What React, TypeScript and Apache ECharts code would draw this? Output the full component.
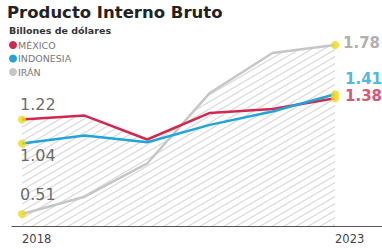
import React, { useEffect, useRef } from "react";
import * as echarts from "echarts";

const years = [2018, 2019, 2020, 2021, 2022, 2023];
const mexico = [1.22, 1.25, 1.07, 1.27, 1.3, 1.38];
const indonesia = [1.04, 1.1, 1.05, 1.18, 1.28, 1.41];
const iran = [0.51, 0.64, 0.89, 1.42, 1.72, 1.78];
const axisYears = [2018, 2023];

const RED = "#d2274f";
const BLUE = "#1fa5da";
const GREY = "#c6c6c6";
const YELLOW = "#efd916";

function envelope(all: number[][]): number[][] {
  const xs: number[] = [...years];
  for (let i = 0; i < years.length - 1; i++) {
    for (let a = 0; a < all.length; a++) {
      for (let b = a + 1; b < all.length; b++) {
        const d0 = all[a][i] - all[b][i];
        const d1 = all[a][i + 1] - all[b][i + 1];
        if (d0 * d1 < 0) {
          const t = d0 / (d0 - d1);
          xs.push(years[i] + t * (years[i + 1] - years[i]));
        }
      }
    }
  }
  xs.sort((p, q) => p - q);
  const valAt = (s: number[], x: number) => {
    let i = Math.min(Math.floor(x - years[0]), years.length - 2);
    const t = (x - years[i]) / (years[i + 1] - years[i]);
    return s[i] + t * (s[i + 1] - s[i]);
  };
  return xs.map((x) => [x, Math.max(...all.map((s) => valAt(s, x)))]);
}

function makePattern() {
  const W = 12, H = 7;
  const c = document.createElement("canvas");
  c.width = W;
  c.height = H;
  const ctx = c.getContext("2d")!;
  ctx.strokeStyle = "#dadada";
  ctx.lineWidth = 1.2;
  for (let k = -1; k <= 1; k++) {
    ctx.beginPath();
    ctx.moveTo(-W, H + H * k + H);
    ctx.lineTo(2 * W, H * k - H);
    ctx.stroke();
  }
  return { image: c, repeat: "repeat", imageWidth: W, imageHeight: H } as any;
}

const numFont = "DejaVu Sans";

export default function App() {
  const ref = useRef<HTMLDivElement>(null);
  useEffect(() => {
    const chart = echarts.init(ref.current!, null, { renderer: "svg" });
    const last = years.length - 1;
    const endpoint = (
      name: string,
      s: number[],
      startLbl: any,
      endLbl: any,
      z: number
    ) => ({
      type: "scatter",
      name: name + "-pts",
      z,
      symbol: "circle",
      symbolSize: 8,
      itemStyle: { color: YELLOW },
      data: [
        { value: [years[0], s[0]], label: startLbl },
        { value: [years[last], s[last]], label: endLbl },
      ],
      silent: true,
    });
    const lbl = (v: number, color: string, weight: string, size: number, dx: number, dy: number) => ({
      show: true,
      position: "inside",
      align: "left",
      verticalAlign: "middle",
      offset: [dx, dy],
      formatter: v.toFixed(2),
      color,
      fontSize: size,
      fontWeight: weight,
      fontFamily: numFont,
    });
    chart.setOption({
      animation: false,
      backgroundColor: "#ffffff",
      title: [
        {
          text: "Producto Interno Bruto",
          left: 2,
          top: -1,
          textStyle: { fontFamily: "DejaVu Sans", fontWeight: "bold", fontSize: 16.5, color: "#222" },
        },
        {
          text: "Billones de dólares",
          left: 4,
          top: 20,
          textStyle: { fontFamily: "DejaVu Sans", fontWeight: "bold", fontSize: 9.5, color: "#333" },
        },
      ],
      legend: {
        orient: "vertical",
        left: 4,
        top: 35,
        itemWidth: 8,
        itemHeight: 8,
        itemGap: 3.5,
        icon: "circle",
        data: ["MÉXICO", "INDONESIA", "IRÁN"],
        textStyle: { fontFamily: "DejaVu Sans", fontSize: 9.5, color: "#777", padding: [0, 0, 0, -4] },
      },
      grid: { left: 12, right: 0, top: 30, bottom: 23 },
      xAxis: {
        type: "value",
        min: 2017.84,
        max: 2023.75,
        axisLine: { show: true, onZero: false, lineStyle: { color: "#555", width: 1 } },
        axisTick: { show: false },
        splitLine: { show: false },
        axisLabel: {
          customValues: axisYears,
          formatter: (v: number) => String(v),
          align: "left",
          margin: 7,
          fontSize: 11.5,
          color: "#444",
          fontFamily: "DejaVu Sans",
        },
      },
      yAxis: {
        type: "value",
        min: 0.42,
        max: 1.893,
        show: false,
        splitLine: { show: false },
      },
      series: [
        {
          type: "line",
          name: "env",
          data: envelope([mexico, indonesia, iran]),
          showSymbol: false,
          lineStyle: { width: 0, opacity: 0 },
          areaStyle: { color: makePattern(), opacity: 1 },
          silent: true,
          z: 1,
        },
        {
          type: "line",
          name: "IRÁN",
          data: years.map((y, i) => [y, iran[i]]),
          showSymbol: false,
          color: GREY,
          lineStyle: { color: GREY, width: 2.5 },
          z: 2,
        },
        {
          type: "line",
          name: "MÉXICO",
          data: years.map((y, i) => [y, mexico[i]]),
          showSymbol: false,
          color: RED,
          lineStyle: { color: RED, width: 2.5 },
          z: 3,
        },
        {
          type: "line",
          name: "INDONESIA",
          data: years.map((y, i) => [y, indonesia[i]]),
          showSymbol: false,
          color: BLUE,
          lineStyle: { color: BLUE, width: 2.5 },
          z: 4,
        },
        endpoint("iran", iran, lbl(iran[0], "#444", "normal", 16, -2, -20), lbl(iran[last], "#9a9a9a", "bold", 15, 8, -2), 5),
        endpoint("mexico", mexico, lbl(mexico[0], "#444", "normal", 16, -2, -15), lbl(mexico[last], RED, "bold", 15, 10, -2), 6),
        endpoint("indonesia", indonesia, lbl(indonesia[0], "#444", "normal", 16, -2, 12), lbl(indonesia[last], BLUE, "bold", 15, 10, -15), 7),
      ],
    });
    return () => chart.dispose();
  }, []);
  return <div ref={ref} style={{ width: 382, height: 249, position: "absolute", left: 0, top: 0 }} />;
}
